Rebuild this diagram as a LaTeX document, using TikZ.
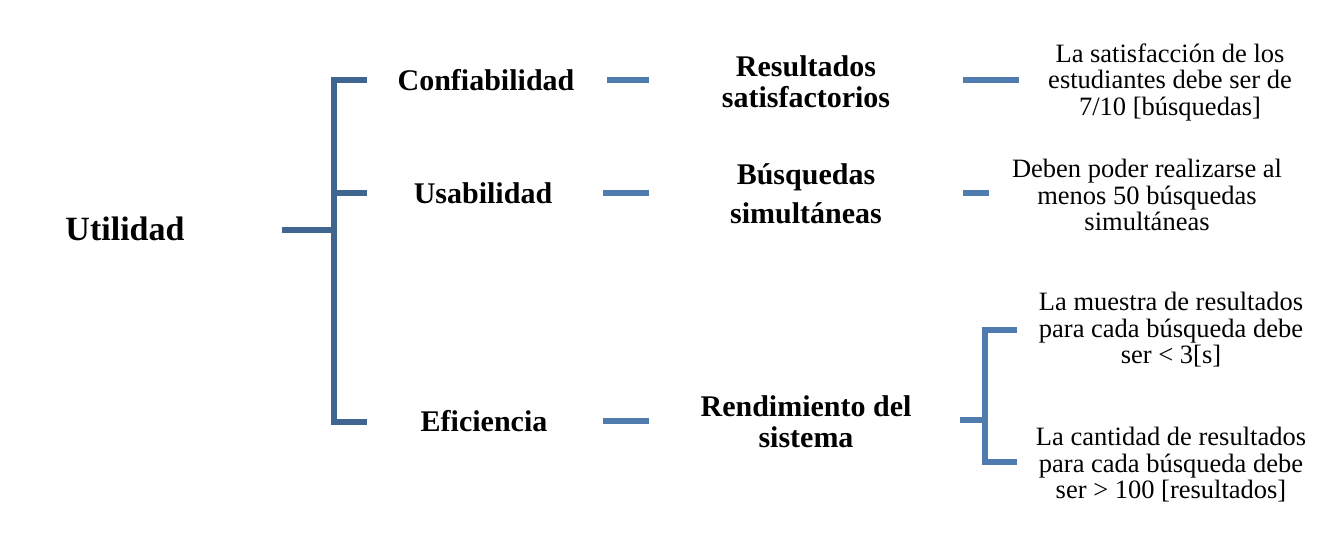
\documentclass[tikz,border=0pt]{standalone}
\usepackage{fontspec}
\setmainfont{Liberation Serif}
\definecolor{brkc}{HTML}{416591}
\definecolor{dshc}{HTML}{4F7BAF}
\begin{document}
\begin{tikzpicture}[x=1pt,y=-1pt,
  rootnode/.style={font=\fontsize{34}{36}\selectfont\bfseries, inner sep=0pt},
  lvl/.style={font=\fontsize{30}{31}\selectfont\bfseries, align=center, inner sep=0pt},
  leaf/.style={font=\fontsize{26.5}{26.5}\selectfont, align=center, inner sep=0pt},
  brk/.style={draw=brkc, line width=5.5pt, line join=miter},
  dsh/.style={draw=dshc, line width=5.5pt, line join=miter}]
\useasboundingbox (0,0) rectangle (1338,548);
% nodes
\node[rootnode] (u) at (125,229) {Utilidad};
\node[lvl] (c) at (486,80) {Confiabilidad};
\node[lvl] (us) at (483,193) {Usabilidad};
\node[lvl] (e) at (484,421) {Eficiencia};
\node[lvl] (r1) at (806,82) {Resultados\\satisfactorios};
\node[lvl] (r2) at (806,194) {Búsquedas\\[8pt]simultáneas};
\node[lvl] (r3) at (806,422) {Rendimiento del\\sistema};
\node[leaf] (l1) at (1170,82) {La satisfacción de los\\estudiantes debe ser de\\7/10 [búsquedas]};
\node[leaf] (l2) at (1147,195) {Deben poder realizarse al\\menos 50 búsquedas\\simultáneas};
\node[leaf] (l3) at (1171,330) {La muestra de resultados\\para cada búsqueda debe\\ser < 3[s]};
\node[leaf] (l4) at (1171,465) {La cantidad de resultados\\para cada búsqueda debe\\ser > 100 [resultados]};
% left bracket coordinates
\coordinate (s0) at (282,230);
\coordinate (s1) at (334,230);
\coordinate (kt) at (334,80);
\coordinate (km) at (334,193);
\coordinate (kb) at (334,422);
\coordinate (a1) at (367,80);
\coordinate (a2) at (367,193);
\coordinate (a3) at (367,422);
\draw[brk] (a1) -- (kt) -- (kb) -- (a3);
\draw[brk] (km) -- (a2);
\draw[brk] (s0) -- (s1);
% dashes level 1 -> level 2
\coordinate (d1a) at (607,80);  \coordinate (d1b) at (649,80);
\coordinate (d2a) at (603,193); \coordinate (d2b) at (649,193);
\coordinate (d3a) at (603,421); \coordinate (d3b) at (649,421);
\draw[dsh] (d1a) -- (d1b);
\draw[dsh] (d2a) -- (d2b);
\draw[dsh] (d3a) -- (d3b);
% dashes level 2 -> leaves
\coordinate (e1a) at (963,80);  \coordinate (e1b) at (1019,80);
\coordinate (e2a) at (963,193); \coordinate (e2b) at (989,193);
\draw[dsh] (e1a) -- (e1b);
\draw[dsh] (e2a) -- (e2b);
% right bracket
\coordinate (f0) at (960,420);
\coordinate (f1) at (985,420);
\coordinate (ft) at (985,330);
\coordinate (fb) at (985,462);
\coordinate (g1) at (1017,330);
\coordinate (g2) at (1017,462);
\draw[dsh] (g1) -- (ft) -- (fb) -- (g2);
\draw[dsh] (f0) -- (f1);
\end{tikzpicture}
\end{document}
